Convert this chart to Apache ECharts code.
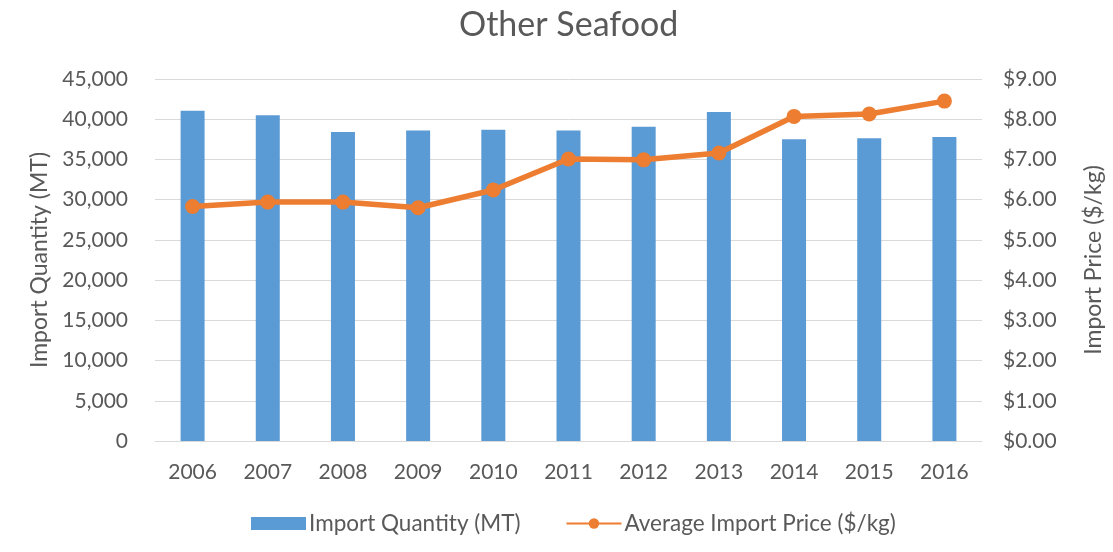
<!DOCTYPE html>
<html>
<head>
<meta charset="utf-8">
<script src="https://cdn.jsdelivr.net/npm/echarts@6/dist/echarts.min.js"></script>
<style>
  html, body { margin: 0; padding: 0; background: #fff; }
  #main { width: 1113px; height: 552px; }
</style>
</head>
<body>
<div id="main"></div>
<script>
// 年份
var years = ['2006', '2007', '2008', '2009', '2010', '2011', '2012', '2013', '2014', '2015', '2016'];
// 进口量 (MT)
var quantity = [41050, 40500, 38400, 38600, 38700, 38600, 39050, 40900, 37500, 37650, 37800];
// 平均进口价格 ($/kg)
var price = [5.83, 5.94, 5.94, 5.80, 6.24, 7.01, 6.99, 7.16, 8.07, 8.13, 8.45];

var myChart = echarts.init(document.getElementById('main'));
var txt = '#595959';
var font = 'Lato';

var option = {
    backgroundColor: '#fff',
    textStyle: { fontFamily: font },
    title: {
        text: 'Other Seafood',
        left: 454,
        top: 3,
        textStyle: { fontFamily: font, fontSize: 34, fontWeight: 'normal', color: txt }
    },
    legend: {
        bottom: 12,
        left: 246,
        itemGap: 45,
        itemWidth: 55,
        itemHeight: 13,
        textStyle: { fontFamily: font, fontSize: 22.5, color: txt, padding: [0, 0, 0, -2] },
        data: [
            { name: 'Import Quantity (MT)', icon: 'rect' },
            { name: 'Average Import Price ($/kg)' }
        ]
    },
    grid: { left: 155, right: 123, top: 79, bottom: 111 },
    xAxis: {
        type: 'category',
        data: years,
        axisLine: { lineStyle: { color: '#d9d9d9', width: 1 } },
        axisTick: { show: false },
        axisLabel: { color: txt, fontSize: 21, margin: 21, fontFamily: font }
    },
    yAxis: [
        {
            type: 'value',
            min: 0, max: 45000, interval: 5000,
            name: 'Import Quantity (MT)',
            nameLocation: 'middle',
            nameGap: 103,
            nameTextStyle: { color: txt, fontSize: 23, fontFamily: font },
            axisLine: { show: false },
            axisTick: { show: false },
            splitLine: { lineStyle: { color: '#d9d9d9', width: 1 } },
            axisLabel: {
                color: txt, fontSize: 21, margin: 27, fontFamily: font,
                formatter: function (v) { return v.toLocaleString('en-US'); }
            }
        },
        {
            type: 'value',
            min: 0, max: 9, interval: 1,
            name: 'Import Price ($/kg)',
            nameLocation: 'middle',
            nameGap: 100,
            nameRotate: 90,
            nameTextStyle: { color: txt, fontSize: 23, fontFamily: font },
            axisLine: { show: false },
            axisTick: { show: false },
            splitLine: { show: false },
            axisLabel: {
                color: txt, fontSize: 21, margin: 21, fontFamily: font,
                formatter: function (v) { return '$' + v.toFixed(2); }
            }
        }
    ],
    series: [
        {
            name: 'Import Quantity (MT)',
            type: 'bar',
            data: quantity,
            barWidth: 24,
            itemStyle: { color: '#5B9BD5' }
        },
        {
            name: 'Average Import Price ($/kg)',
            type: 'line',
            yAxisIndex: 1,
            data: price,
            symbol: 'circle',
            symbolSize: 15,
            lineStyle: { color: '#ED7D31', width: 5.5 },
            itemStyle: { color: '#ED7D31' }
        }
    ]
};

myChart.setOption(option);
</script>
</body>
</html>
